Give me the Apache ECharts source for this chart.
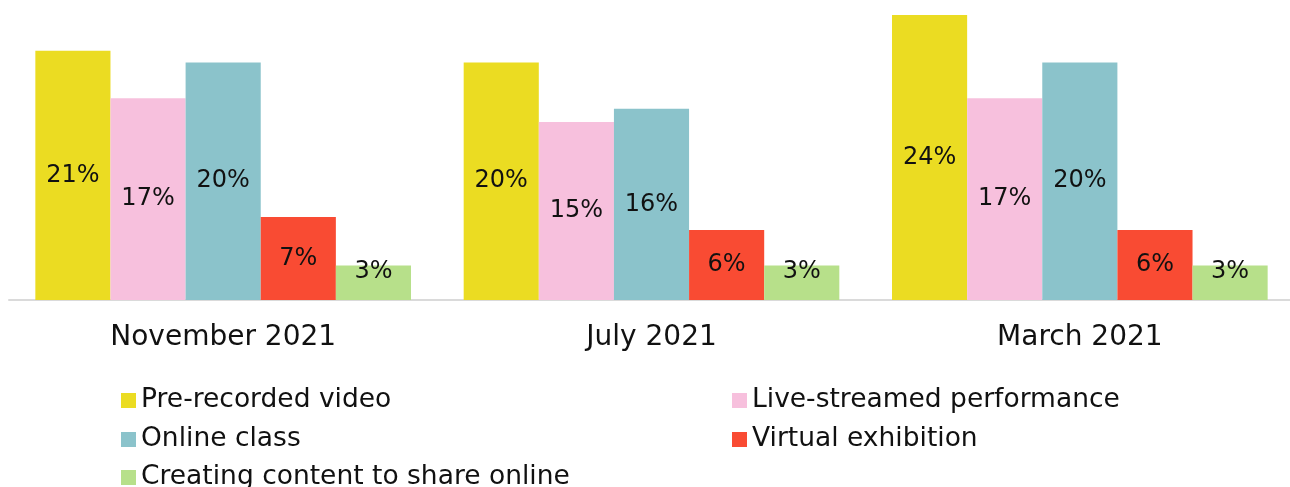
<!DOCTYPE html>
<html>
<head>
<meta charset="utf-8">
<script src="https://cdn.jsdelivr.net/npm/echarts@6/dist/echarts.min.js"></script>
<style>
html,body{margin:0;padding:0;background:#fff;}
#chart{width:1290px;height:487px;}
</style>
</head>
<body>
<div id="chart"></div>
<script>
const categories = ['November 2021', 'July 2021', 'March 2021'];
const seriesNames = ['Pre-recorded video', 'Live-streamed performance', 'Online class', 'Virtual exhibition', 'Creating content to share online'];
const preRecorded = [21, 20, 24];
const liveStreamed = [17, 15, 17];
const onlineClass = [20, 16.1, 20];
const virtualExhibition = [7, 5.9, 5.9];
const creatingContent = [2.9, 2.9, 2.9];
const colors = ['#EBDC22', '#F7C0DD', '#8BC3CB', '#F94B33', '#B7E08A'];

const FONT = 'DejaVu Sans';
const values = [preRecorded, liveStreamed, onlineClass, virtualExhibition, creatingContent];

// legend placement: [left, top] for each series (two-column layout)
const legendPos = [[121, 387], [732, 387], [121, 426], [732, 426], [121, 464]];

const chart = echarts.init(document.getElementById('chart'));
chart.setOption({
  animation: false,
  backgroundColor: '#fff',
  textStyle: { fontFamily: FONT },
  grid: { left: 9, top: 15, width: 1285, height: 285, containLabel: false, outerBoundsMode: 'none' },
  legend: seriesNames.map((name, i) => ({
    orient: 'horizontal',
    left: legendPos[i][0], top: legendPos[i][1],
    padding: 0,
    itemWidth: 15, itemHeight: 15, itemTextGap: 7,
    icon: 'rect',
    textStyle: { fontFamily: FONT, fontSize: 26.5, color: '#111' },
    data: [name]
  })),
  xAxis: {
    type: 'category',
    data: categories,
    axisLine: { show: true, lineStyle: { color: '#DADADA', width: 2 } },
    axisTick: { show: false },
    axisLabel: { fontFamily: FONT, fontSize: 28, color: '#111', margin: 24 }
  },
  yAxis: {
    type: 'value', min: 0, max: 24,
    show: false,
    splitLine: { show: false }
  },
  series: seriesNames.map((name, i) => ({
    name: name,
    type: 'bar',
    data: values[i],
    barGap: '0%',
    barCategoryGap: '12.3%',
    itemStyle: { color: colors[i] },
    label: {
      show: true,
      position: 'inside',
      offset: i === 4 ? [0, -11] : [0, 0],
      fontFamily: FONT,
      fontSize: 24,
      color: '#111',
      formatter: p => Math.round(p.value) + '%'
    }
  }))
});
</script>
</body>
</html>
